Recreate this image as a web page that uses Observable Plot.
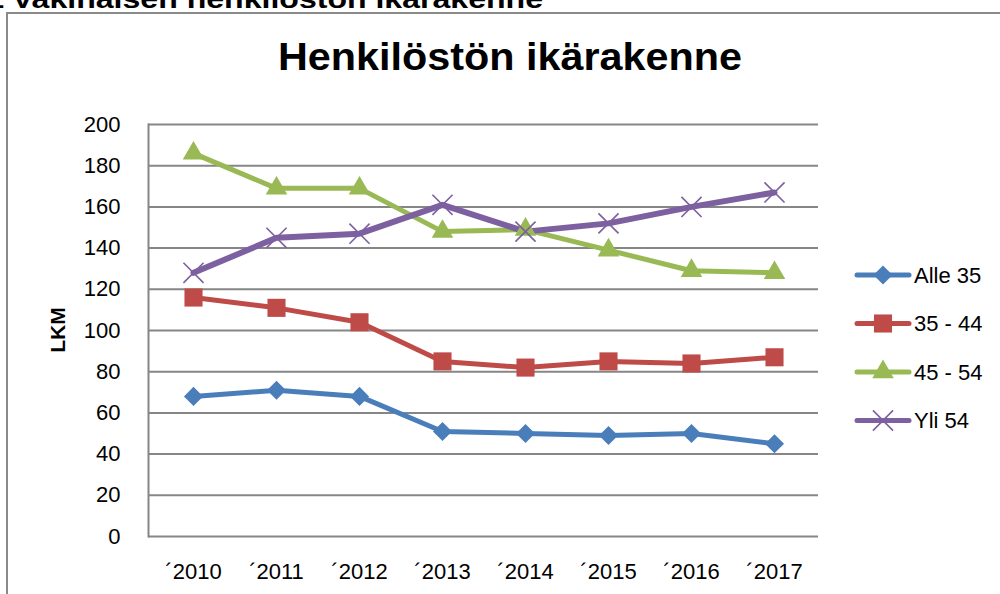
<!DOCTYPE html>
<html>
<head>
<meta charset="utf-8">
<script src="https://cdn.jsdelivr.net/npm/d3@7"></script>
<script src="https://cdn.jsdelivr.net/npm/@observablehq/plot@0.6"></script>
<style>
  html, body { margin: 0; padding: 0; background: #fff; }
  #wrap { position: relative; width: 1000px; height: 594px; overflow: hidden; background: #fff; }
  #box { position: absolute; left: 6px; top: 12px; width: 1100px; height: 700px; border: 2px solid #8a8a8a; box-sizing: border-box; }
  #chart { position: absolute; left: 0; top: 0; }
</style>
</head>
<body>
<div id="wrap"><div id="box"></div><div id="chart"></div></div>
<script>
const heading = "Vakinaisen henkilöstön ikärakenne";
const title = "Henkilöstön ikärakenne";
const yLabel = "LKM";
const years = ["´2010", "´2011", "´2012", "´2013", "´2014", "´2015", "´2016", "´2017"];
const yTicks = [0, 20, 40, 60, 80, 100, 120, 140, 160, 180, 200];
const seriesNames = ["Alle 35", "35 - 44", "45 - 54", "Yli 54"];
const alle35 = [68, 71, 68, 51, 50, 49, 50, 45];
const v35_44 = [116, 111, 104, 85, 82, 85, 84, 87];
const v45_54 = [186, 169, 169, 148, 149, 139, 129, 128];
const yli54 = [128, 145, 147, 161, 148, 152, 160, 167];

const colors = ["#4A7EBB", "#BE4B48", "#98B954", "#7D60A0"];
const symbols = ["diamond2", "square", "triangle", "times"];
const radii = [8.6, 10.2, 8.0, 9.2];
const widths = [5, 5, 5, 6];
const values = [alle35, v35_44, v45_54, yli54];

const data = [];
seriesNames.forEach((s, i) => values[i].forEach((v, j) => data.push({series: s, year: years[j], value: v})));

const marks = [
  Plot.ruleY(yTicks, {stroke: "#868686", strokeWidth: 2}),
  Plot.frame({anchor: "left", stroke: "#868686", strokeWidth: 2})
];
seriesNames.forEach((s, i) => {
  const d = data.filter(r => r.series === s);
  marks.push(Plot.line(d, {x: "year", y: "value", stroke: colors[i], strokeWidth: widths[i], strokeLinejoin: "round", strokeLinecap: "round"}));
});
seriesNames.forEach((s, i) => {
  const d = data.filter(r => r.series === s);
  if (symbols[i] === "times") {
    marks.push(Plot.dot(d, {x: "year", y: "value", symbol: "times", r: radii[i], stroke: colors[i], strokeWidth: 1.6, fill: "none"}));
  } else {
    marks.push(Plot.dot(d, {x: "year", y: "value", symbol: symbols[i], r: radii[i], fill: colors[i], stroke: "none"}));
  }
});

const chart = Plot.plot({
  width: 1000,
  height: 594,
  marginLeft: 148,
  marginRight: 182,
  marginTop: 124,
  marginBottom: 58,
  style: {fontFamily: "'Liberation Sans', Arial, sans-serif", fontSize: "22px", color: "#000", background: "transparent", overflow: "visible"},
  x: {type: "point", domain: years, padding: 0.5, label: null, tickSize: 0, tickPadding: 27},
  y: {domain: [0, 200], ticks: yTicks, label: null, tickSize: 0, tickPadding: 28},
  marks
});
document.getElementById("chart").appendChild(chart);

const svg = d3.select(chart);
// clipped heading at the very top
svg.append("text").attr("x", 4).attr("y", 8).attr("text-anchor", "end")
  .attr("font-weight", "bold").attr("font-size", 26).attr("fill", "#000").text("1");
svg.append("text").attr("x", 12).attr("y", 8).attr("text-anchor", "start")
  .attr("font-weight", "bold").attr("font-size", 26).attr("fill", "#000")
  .attr("textLength", 531).attr("lengthAdjust", "spacingAndGlyphs").text(heading);
// title
svg.append("text").attr("x", 510).attr("y", 70).attr("text-anchor", "middle")
  .attr("font-weight", "bold").attr("font-size", 38).attr("fill", "#000")
  .attr("textLength", 464).attr("lengthAdjust", "spacingAndGlyphs").text(title);
// y label
svg.append("text").attr("transform", "translate(65,330) rotate(-90)").attr("text-anchor", "middle")
  .attr("font-weight", "bold").attr("font-size", 21).attr("fill", "#000").text(yLabel);
// legend
const symMap = {diamond2: d3.symbolDiamond2, square: d3.symbolSquare, triangle: d3.symbolTriangle, times: d3.symbolTimes};
seriesNames.forEach((s, i) => {
  const yy = 275 + i * 48.5;
  const g = svg.append("g");
  g.append("line").attr("x1", 857).attr("x2", 909).attr("y1", yy).attr("y2", yy)
    .attr("stroke", colors[i]).attr("stroke-width", 5).attr("stroke-linecap", "round");
  const path = d3.symbol(symMap[symbols[i]], radii[i] * radii[i] * Math.PI)();
  const p = g.append("path").attr("d", path).attr("transform", `translate(883,${yy})`);
  if (symbols[i] === "times") p.attr("fill", "none").attr("stroke", colors[i]).attr("stroke-width", 1.6);
  else p.attr("fill", colors[i]);
  g.append("text").attr("x", 914).attr("y", yy).attr("dy", "0.36em").attr("text-anchor", "start")
    .attr("font-size", 22).attr("fill", "#000").text(s);
});
</script>
</body>
</html>
